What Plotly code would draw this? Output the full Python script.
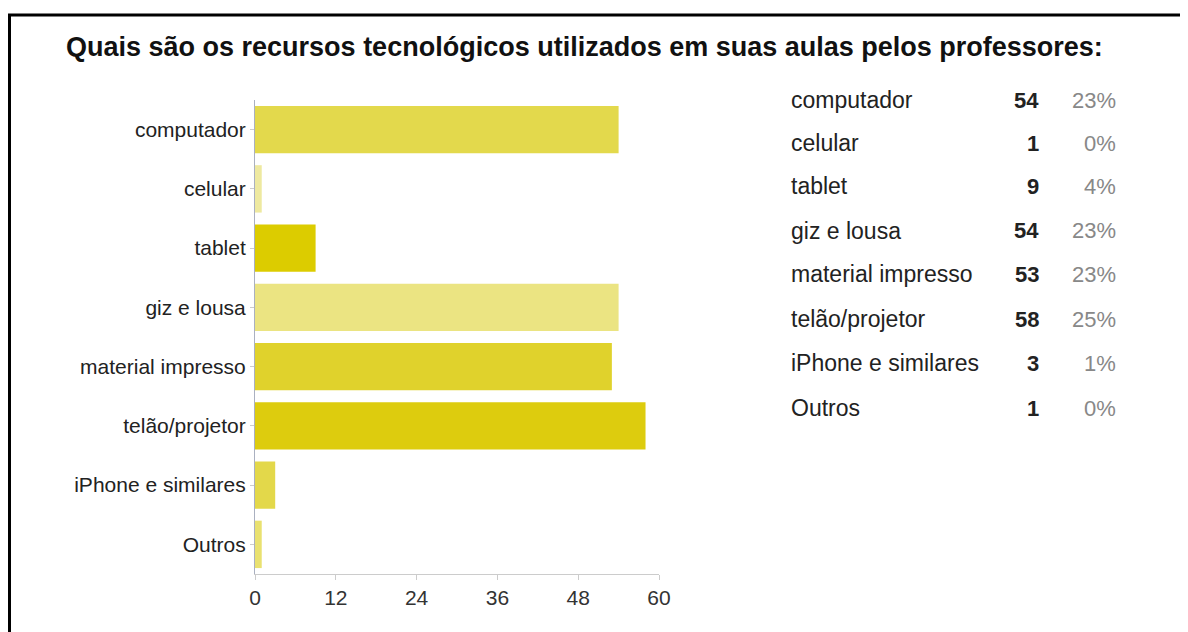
import plotly.graph_objects as go

categories = ["computador", "celular", "tablet", "giz e lousa", "material impresso",
              "telão/projetor", "iPhone e similares", "Outros"]
counts = [54, 1, 9, 54, 53, 58, 3, 1]
percents = ["23%", "0%", "4%", "23%", "23%", "25%", "1%", "0%"]
bar_colors = ["#e3d94c", "#eee9a0", "#dccc00", "#ebe482", "#e0d22c", "#ddcc0e", "#e3d84a", "#e9e170"]
x_ticks = [0, 12, 24, 36, 48, 60]
title = "Quais são os recursos tecnológicos utilizados em suas aulas pelos professores:"

OFF = 8  # page body margin
W, H = 1188 - OFF, 632 - OFF
# plot area in screen pixels
L, R, T, B = 255, 659, 100, 574

def px(x):
    return (x - L) / (R - L)

def py(y):
    return (B - y) / (B - T)

fig = go.Figure()
fig.add_trace(go.Bar(
    y=categories, x=counts, orientation="h",
    marker=dict(color=bar_colors, line=dict(width=0)),
    width=0.8, hoverinfo="x+y",
))

fnt = "Liberation Sans, Arial, sans-serif"
row_y = [100, 143, 186, 231, 274, 319, 363, 408]
ann = []
for i, (c, n, p) in enumerate(zip(categories, counts, percents)):
    ann.append(dict(x=px(789), y=py(row_y[i]), xref="paper", yref="paper", text=c,
                    showarrow=False, xanchor="left", yanchor="middle",
                    font=dict(family=fnt, size=23, color="#222")))
    ann.append(dict(x=px(1041), y=py(row_y[i]), xref="paper", yref="paper", text="<b>%d</b>" % n,
                    showarrow=False, xanchor="right", yanchor="middle",
                    font=dict(family=fnt, size=22, color="#222")))
    ann.append(dict(x=px(1118), y=py(row_y[i]), xref="paper", yref="paper", text=p,
                    showarrow=False, xanchor="right", yanchor="middle",
                    font=dict(family=fnt, size=22, color="#888")))

ann.append(dict(x=px(64), y=py(47), xref="paper", yref="paper", text="<b>" + title + "</b>",
                showarrow=False, xanchor="left", yanchor="middle",
                font=dict(family=fnt, size=27, color="#111")))

shapes = [
    dict(type="line", xref="paper", yref="paper", x0=px(8), x1=px(1200), y0=py(15), y1=py(15),
         line=dict(color="black", width=3)),
    dict(type="line", xref="paper", yref="paper", x0=px(9.5), x1=px(9.5), y0=py(14), y1=py(660),
         line=dict(color="black", width=3)),
]

fig.update_layout(
    width=W, height=H,
    margin=dict(l=L - OFF, r=W - (R - OFF), t=T - OFF, b=H - (B - OFF)),
    paper_bgcolor="white", plot_bgcolor="white",
    showlegend=False,
    annotations=ann, shapes=shapes,
    xaxis=dict(range=[0, 60], tickvals=x_ticks, showgrid=False, zeroline=False,
               showline=True, linecolor="#cccccc", linewidth=1,
               ticks="outside", ticklen=5, tickcolor="#cccccc",
               tickfont=dict(family=fnt, size=21, color="#333")),
    yaxis=dict(autorange="reversed", showgrid=False, zeroline=False,
               showline=True, linecolor="#aab0c0", linewidth=1,
               ticks="outside", ticklen=4, tickcolor="#cccccc",
               tickfont=dict(family=fnt, size=21, color="#222")),
)

fig.write_html("out.html")
